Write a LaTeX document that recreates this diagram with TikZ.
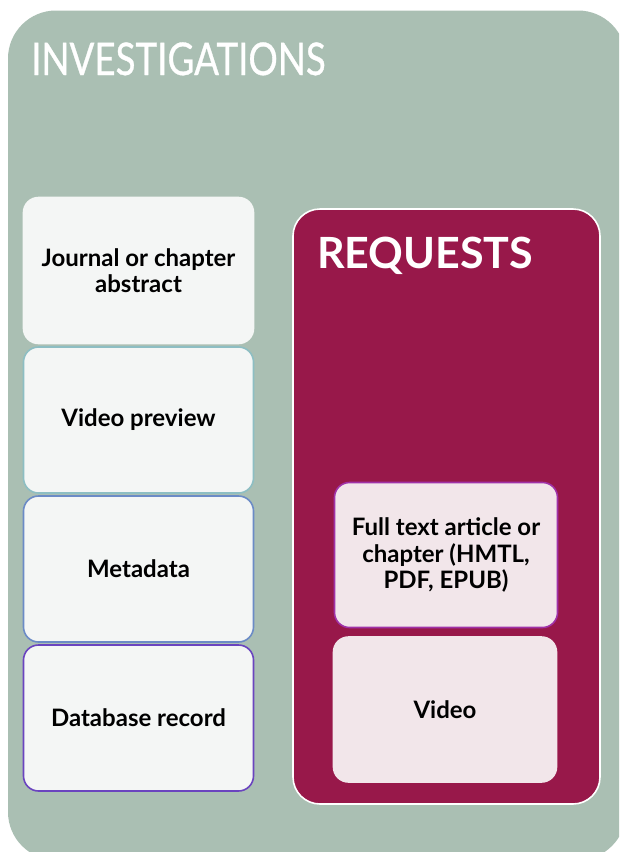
\documentclass[tikz,border=0pt]{standalone}
\usepackage{fontspec}
\setmainfont{Lato}
\newfontfamily\titlefont{Lato}[FakeBold=0.8]
\definecolor{sage}{HTML}{AABFB3}
\definecolor{wine}{HTML}{98184A}
\definecolor{greybox}{HTML}{F4F6F5}
\definecolor{pinkbox}{HTML}{F2E6EA}
\definecolor{tealline}{HTML}{8DBEC3}
\definecolor{blueline}{HTML}{6B8BC6}
\definecolor{purpline}{HTML}{6A44BF}
\definecolor{mauveline}{HTML}{A032A8}
\tikzset{
  itembox/.style={rounded corners=15pt, line width=1.6pt, align=center,
    font=\bfseries\fontsize{24}{26.5}\selectfont, text=black, inner sep=0pt},
  leftbox/.style={itembox, fill=greybox, minimum width=230pt, minimum height=146pt},
  rightbox/.style={itembox, fill=pinkbox, minimum width=223pt, minimum height=145pt},
  title/.style={text=white, inner sep=0pt, anchor=base west}
}
\begin{document}
\begin{tikzpicture}[x=1pt,y=-1pt]
\useasboundingbox (0,0) rectangle (619,852);
\clip (0,0) rectangle (619,852);
\fill[white] (0,0) rectangle (619,852);
\fill[sage, rounded corners=48pt] (8,10.5) rectangle (626,860);
\node[title, font=\titlefont\fontsize{45}{50}\selectfont] (inv) at (31,75) {\scalebox{0.816}[1]{INVESTIGATIONS}};
\node[leftbox, draw=greybox] (b1) at (138.5,270.5) {Journal or chapter\\abstract};
\node[leftbox, draw=tealline] (b2) at (138.5,420) {Video preview};
\node[leftbox, draw=blueline] (b3) at (138.5,569) {Metadata};
\node[leftbox, draw=purpline] (b4) at (138.5,718) {Database record};
\node[fill=wine, draw=white, line width=1.6pt, rounded corners=27pt,
  minimum width=307pt, minimum height=595pt, inner sep=0pt] (req) at (446.5,506.5) {};
\node[title, font=\bfseries\fontsize{43}{48}\selectfont] (reqt) at (317,268) {REQUESTS};
\node[rightbox, draw=mauveline] (r1) at (446,555) {Full text article or\\chapter (HMTL,\\PDF, EPUB)};
\node[rightbox, draw=pinkbox] (r2) at (445,709.5) {Video};
\end{tikzpicture}
\end{document}
